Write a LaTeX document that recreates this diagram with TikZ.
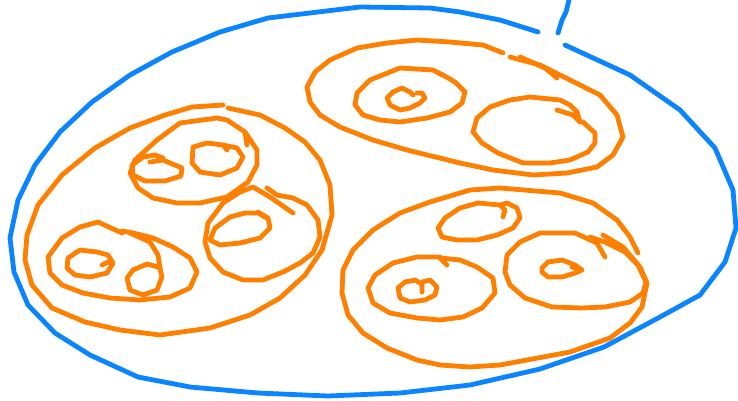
\documentclass[tikz,border=0pt]{standalone}
\usepackage{tikz}

\definecolor{kekvonal}{RGB}{10,132,255}
\definecolor{narancs}{RGB}{255,128,0}

\begin{document}
\begin{tikzpicture}[
    % Stílus a kézzel rajzolt vonalakhoz
    korvonal/.style={
        kekvonal, line width=4.8pt,
        line cap=round, line join=round
    },
    hurok/.style={
        narancs, line width=4.8pt,
        line cap=round, line join=round
    }
,x=1pt, y=-1pt]

    % Keret a kép méretéhez
    \useasboundingbox (0,0) rectangle (738,400);

    % Külső kék görbe, fent nyitott
    \draw[korvonal] (538,32) -- (500,20) -- (460,12) -- (430,8) -- (360,7)
        -- (318,12) -- (268,18) -- (220,32) -- (172,52) -- (130,75)
        -- (92,102) -- (60,132) -- (35,165) -- (18,200) -- (10,238)
        -- (14,272) -- (28,305) -- (55,333) -- (90,355) -- (138,377)
        -- (190,387) -- (258,393) -- (328,396) -- (400,393) -- (470,385)
        -- (540,369) -- (604,347) -- (660,317) -- (700,295) -- (725,262)
        -- (736,228) -- (733,190) -- (715,148) -- (680,110) -- (630,75)
        -- (565,45);
    \draw[korvonal] (558,33) -- (562,20) -- (566,12) -- (569,0);

    % Bal oldali nagy hurok
    \draw[hurok] (223,105) -- (192,107) -- (165,115) -- (130,128) -- (95,148)
        -- (62,175) -- (38,205) -- (27,235) -- (25,260) -- (32,285)
        -- (52,308) -- (85,322) -- (120,330) -- (160,335) -- (210,328)
        -- (250,315) -- (280,298) -- (305,275) -- (322,250) -- (332,215)
        -- (330,185) -- (320,160) -- (305,142) -- (285,128) -- (260,115)
        -- (228,108);

    % (A): felső kis hurok
    \draw[hurok] (247,145) -- (245,132) -- (257,150) -- (257,165) -- (248,182)
        -- (227,197) -- (200,203) -- (177,203) -- (153,198) -- (138,188)
        -- (130,173) -- (135,160) -- (157,140) -- (180,123) -- (217,118)
        -- (227,120) -- (245,132);
    \draw[hurok] (150,162) -- (163,160) -- (170,163) -- (182,168) -- (181,176)
        -- (165,181) -- (145,181) -- (133,175) -- (132,165) -- (143,157)
        -- (155,155) -- (163,158);
    \draw[hurok] (227,150) -- (223,145) -- (237,148) -- (243,157) -- (237,168)
        -- (220,175) -- (200,172) -- (192,163) -- (193,147) -- (207,143)
        -- (223,145);

    % (B): jobb oldali kis hurok
    \draw[hurok] (293,213) -- (270,197) -- (253,187) -- (240,192) -- (223,203)
        -- (208,223) -- (205,242) -- (210,258) -- (223,272) -- (243,280)
        -- (263,280) -- (283,272) -- (300,263) -- (313,253) -- (320,237)
        -- (318,220) -- (307,205) -- (293,198) -- (277,195) -- (267,188);
    \draw[hurok] (258,212) -- (268,218) -- (270,228) -- (260,238) -- (240,243)
        -- (220,245) -- (210,240) -- (215,228) -- (230,217) -- (245,213)
        -- (258,213) -- (267,218);

    % (C): alsó kis hurok
    \draw[hurok] (122,233) -- (98,222) -- (80,227) -- (62,238) -- (48,257)
        -- (50,273) -- (62,285) -- (83,293) -- (110,298) -- (140,300)
        -- (170,297) -- (190,288) -- (197,272) -- (190,258) -- (173,247)
        -- (153,238) -- (133,233) -- (122,231);
    \draw[hurok] (130,233) -- (150,242) -- (158,255) -- (160,268) -- (162,277)
        -- (157,290) -- (143,295) -- (130,290) -- (127,278) -- (133,270)
        -- (147,264) -- (158,267);
    \draw[hurok] (102,265) -- (108,262) -- (113,263) -- (107,273) -- (90,277)
        -- (75,275) -- (67,268) -- (68,258) -- (80,250) -- (97,252)
        -- (108,255) -- (113,263);

    % Jobb felső nagy hurok
    \draw[hurok] (503,53) -- (483,45) -- (450,42) -- (417,40) -- (387,43)
        -- (357,48) -- (330,60) -- (315,72) -- (307,87) -- (310,102)
        -- (320,115) -- (340,127) -- (373,140) -- (407,150) -- (460,163)
        -- (493,170) -- (533,175) -- (567,173) -- (597,167) -- (613,155)
        -- (623,137) -- (617,115) -- (600,95) -- (580,85) -- (560,75)
        -- (540,65) -- (510,57);
    \draw[hurok] (520,57) -- (545,68) -- (557,78);

    % Bal kis hurok spirállal
    \draw[hurok] (442,75) -- (433,70) -- (400,68) -- (370,80) -- (357,93)
        -- (355,105) -- (363,115) -- (380,120) -- (400,122) -- (427,118)
        -- (450,112) -- (462,103) -- (465,92) -- (455,82) -- (443,75)
        -- (433,70);
    \draw[hurok] (417,93) -- (422,93) -- (425,98) -- (420,103) -- (410,108)
        -- (400,110) -- (390,105) -- (387,98) -- (393,92) -- (402,88)
        -- (410,92) -- (413,95);

    % Jobb kis hurok
    \draw[hurok] (557,110) -- (573,115) -- (580,122) -- (583,122) -- (595,133)
        -- (595,143) -- (588,152) -- (570,160) -- (550,163) -- (523,163)
        -- (498,153) -- (482,143) -- (473,132) -- (477,118) -- (490,107)
        -- (510,100) -- (530,97) -- (560,100) -- (570,105) -- (577,112)
        -- (580,122);

    % Jobb alsó nagy hurok
    \draw[hurok] (603,235) -- (623,247) -- (640,267) -- (647,283) -- (642,307)
        -- (630,323) -- (610,338) -- (570,352) -- (500,365) -- (470,367)
        -- (440,365) -- (417,360) -- (387,348) -- (363,333) -- (348,315)
        -- (342,293) -- (343,270) -- (353,250) -- (373,230) -- (400,213)
        -- (430,202) -- (470,190) -- (500,188) -- (560,193) -- (593,203)
        -- (617,220) -- (630,237) -- (638,253);

    % (a): felső kis hurok
    \draw[hurok] (503,217) -- (505,210) -- (500,205) -- (478,203) -- (460,208)
        -- (445,218) -- (438,228) -- (442,237) -- (457,240) -- (477,240)
        -- (497,235) -- (513,228) -- (520,218) -- (517,208) -- (507,203)
        -- (500,205);

    % (b): bal kis hurok
    \draw[hurok] (447,265) -- (440,258) -- (460,260) -- (477,267) -- (493,278)
        -- (495,293) -- (482,308) -- (463,317) -- (440,320) -- (417,318)
        -- (390,313) -- (373,303) -- (368,288) -- (375,275) -- (393,263)
        -- (417,257) -- (440,257);
    \draw[hurok] (422,292) -- (422,282) -- (430,280) -- (437,287) -- (435,295)
        -- (425,300) -- (410,302) -- (400,298) -- (398,288) -- (405,282)
        -- (415,280) -- (420,283);

    % (c): jobb kis hurok
    \draw[hurok] (605,257) -- (597,243) -- (575,233) -- (540,233) -- (520,242)
        -- (507,255) -- (505,272) -- (510,285) -- (525,298) -- (552,307)
        -- (582,308) -- (605,307) -- (630,302) -- (643,293) -- (646,282)
        -- (638,265) -- (625,252) -- (605,242) -- (590,237);
    \draw[hurok] (572,267) -- (582,270) -- (575,273) -- (562,277) -- (548,277)
        -- (542,272) -- (542,268) -- (548,262) -- (562,260) -- (575,265)
        -- (582,270);
\end{tikzpicture}
\end{document}
